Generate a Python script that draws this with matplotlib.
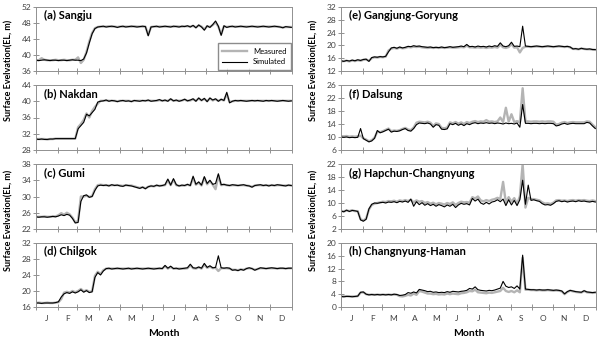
import numpy as np
import matplotlib
matplotlib.use('Agg')
import matplotlib.pyplot as plt
from matplotlib.lines import Line2D

plt.rcParams['font.family'] = ['Lato', 'DejaVu Sans']

# daily record sampled every 4 days (day-of-year 0..364)
days = np.arange(0, 365, 4)

month_edges = [0, 31, 59, 90, 120, 151, 181, 212, 243, 273, 304, 334, 365]
month_labels = ['J', 'F', 'M', 'A', 'M', 'J', 'J', 'A', 'S', 'O', 'N', 'D']

titles = ['(a) Sangju', '(b) Nakdan', '(c) Gumi', '(d) Chilgok',
          '(e) Gangjung-Goryung', '(f) Dalsung', '(g) Hapchun-Changnyung',
          '(h) Changnyung-Haman']
ylims = [(36, 52), (28, 44), (22, 38), (16, 32),
         (12, 32), (6, 26), (2, 22), (0, 20)]

sangju_sim = [38.7, 38.6, 38.7, 38.8, 38.7, 38.6, 38.7, 38.7,
              38.6, 38.7, 38.7, 38.6, 38.7, 38.8, 38.7, 38.7,
              38.6, 39.0, 40.5, 43.0, 45.3, 46.6, 47.0, 47.1,
              47.2, 47.0, 47.1, 47.2, 47.1, 46.9, 47.1, 47.2,
              47.0, 47.1, 47.2, 47.1, 47.0, 47.1, 47.2, 47.1,
              44.8, 47.0, 47.1, 47.2, 47.0, 47.1, 47.2, 47.1,
              47.0, 47.2, 47.1, 47.0, 47.2, 47.1, 47.3, 47.0,
              47.4, 46.8, 47.5, 47.0, 46.2, 47.3, 46.9, 47.6,
              48.5, 47.2, 44.9, 47.3, 46.9, 47.1, 47.2, 47.0,
              47.1, 47.2, 47.1, 47.0, 47.1, 47.2, 47.1, 47.0,
              47.1, 47.2, 47.1, 47.0, 47.1, 47.2, 47.1, 47.0,
              46.8, 47.1, 47.0, 46.9]
sangju_obs = [38.7, 38.7, 39.2, 38.8, 38.7, 38.7, 38.7, 38.8,
              38.7, 38.7, 38.8, 38.7, 38.7, 38.8, 38.8, 39.4,
              38.0, 38.8, 40.8, 43.4, 45.5, 46.7, 47.0, 47.1,
              47.1, 47.1, 47.2, 47.1, 47.1, 47.0, 47.1, 47.1,
              47.1, 47.1, 47.1, 47.2, 47.1, 47.1, 47.1, 47.1,
              45.0, 47.0, 47.1, 47.1, 47.1, 47.1, 47.1, 47.1,
              47.1, 47.1, 47.2, 47.1, 47.1, 47.2, 47.2, 47.1,
              47.3, 46.9, 47.4, 47.1, 46.4, 47.2, 47.0, 47.5,
              48.2, 47.1, 45.2, 47.2, 47.0, 47.1, 47.1, 47.1,
              47.1, 47.1, 47.1, 47.1, 47.1, 47.1, 47.1, 47.1,
              47.1, 47.1, 47.1, 47.1, 47.1, 47.1, 47.1, 47.0,
              46.9, 47.0, 47.0, 47.0]

nakdan_sim = [30.7, 30.6, 30.7, 30.6, 30.6, 30.7, 30.7, 30.8,
              30.8, 30.8, 30.8, 30.8, 30.8, 30.8, 30.8, 33.2,
              34.0, 34.8, 36.8, 36.4, 37.2, 38.0, 39.8, 40.0,
              40.1, 40.3, 40.0, 40.2, 40.1, 39.9, 40.1, 40.2,
              40.0, 40.1, 39.9, 40.2, 40.1, 40.0, 40.2, 40.1,
              40.3, 40.0, 40.1, 40.2, 40.4, 40.1, 40.3, 40.0,
              40.6, 40.1, 40.3, 40.0, 40.2, 40.5, 40.1, 40.3,
              40.6, 40.0, 40.8, 40.2, 40.7, 39.9, 40.8, 40.3,
              40.6, 40.0, 40.5, 40.2, 42.2, 39.6, 40.0, 40.2,
              40.1, 40.2, 40.1, 40.0, 40.1, 40.2, 40.1, 40.2,
              40.1, 40.0, 40.2, 40.1, 40.2, 40.1, 40.0, 40.1,
              40.2, 40.1, 40.0, 40.1]
nakdan_obs = [30.7, 30.7, 30.7, 30.7, 30.6, 30.7, 30.7, 30.8,
              30.8, 30.8, 30.8, 30.8, 30.8, 30.8, 30.8, 33.6,
              34.4, 35.4, 37.0, 36.0, 37.6, 38.6, 39.4, 40.1,
              40.1, 40.2, 40.1, 40.1, 40.1, 40.0, 40.1, 40.1,
              40.1, 40.1, 40.0, 40.1, 40.1, 40.1, 40.1, 40.1,
              40.2, 40.1, 40.1, 40.1, 40.3, 40.1, 40.2, 40.1,
              40.5, 40.1, 40.2, 40.1, 40.2, 40.4, 40.1, 40.2,
              40.5, 40.1, 40.7, 40.2, 40.6, 40.0, 40.7, 40.2,
              40.5, 40.1, 40.4, 40.2, 41.8, 39.8, 40.0, 40.1,
              40.1, 40.1, 40.1, 40.1, 40.1, 40.1, 40.1, 40.1,
              40.1, 40.1, 40.1, 40.1, 40.1, 40.1, 40.1, 40.1,
              40.1, 40.1, 40.1, 40.1]

gumi_sim = [25.0, 24.9, 25.0, 25.0, 24.9, 25.0, 25.1, 25.0,
            25.2, 25.5, 25.3, 25.6, 25.4, 24.6, 23.5, 23.6,
            28.8, 30.2, 30.4, 29.8, 30.0, 31.5, 32.6, 32.8,
            32.7, 32.8, 32.6, 32.9, 32.7, 32.8, 32.6, 32.5,
            32.8, 32.7, 32.6, 32.4, 32.2, 32.0, 32.3, 31.9,
            32.4, 32.6, 32.5, 32.8, 32.6, 32.7, 32.9, 34.3,
            32.8, 34.4, 32.9, 32.6, 32.8, 32.7, 33.0, 32.7,
            35.0, 33.0, 33.6, 32.8, 34.9, 33.2, 34.0, 33.0,
            33.2, 35.6, 32.9, 33.0, 32.8, 32.7, 32.9, 32.8,
            32.7, 32.8, 32.9, 32.7, 32.6, 32.3, 32.7, 32.8,
            32.9, 32.7, 32.8, 32.6, 32.8, 32.7, 32.9, 32.8,
            32.7, 32.6, 32.8, 32.7]
gumi_obs = [25.0, 25.0, 25.0, 25.1, 25.0, 25.0, 25.1, 25.1,
            25.4, 25.9, 25.5, 26.0, 25.6, 24.8, 23.6, 24.0,
            30.0, 30.0, 30.2, 29.9, 30.1, 31.8, 32.8, 32.9,
            32.8, 32.8, 32.7, 32.8, 32.8, 32.8, 32.7, 32.6,
            32.8, 32.7, 32.7, 32.5, 32.3, 32.1, 32.3, 32.0,
            32.4, 32.6, 32.5, 32.7, 32.6, 32.7, 32.8, 34.0,
            32.8, 34.1, 32.8, 32.6, 32.7, 32.7, 32.9, 32.7,
            34.6, 32.9, 33.4, 32.7, 34.6, 33.0, 33.8, 32.9,
            31.8, 35.2, 32.8, 32.9, 32.8, 32.7, 32.8, 32.8,
            32.7, 32.8, 32.8, 32.7, 32.6, 32.4, 32.7, 32.8,
            32.8, 32.7, 32.8, 32.7, 32.8, 32.7, 32.8, 32.8,
            32.7, 32.7, 32.8, 32.7]

chilgok_sim = [17.0, 17.0, 16.9, 17.0, 17.0, 17.0, 17.0, 17.1,
               17.3, 18.5, 19.3, 19.6, 19.4, 19.8, 19.5, 19.8,
               20.3, 19.7, 20.1, 19.6, 19.8, 23.4, 24.6, 24.0,
               25.0, 25.6, 25.7, 25.5, 25.6, 25.7, 25.6, 25.5,
               25.6, 25.7, 25.5, 25.6, 25.7, 25.6, 25.5, 25.6,
               25.7, 25.6, 25.5, 25.6, 25.7, 25.6, 26.4, 25.7,
               26.2, 25.6, 25.7, 25.5, 25.6, 25.7, 25.8, 26.7,
               25.8, 25.7, 26.0, 25.7, 26.9, 25.9, 26.3, 25.8,
               25.9, 28.8, 25.8, 25.7, 25.8, 25.7, 25.2, 25.3,
               25.1, 25.4, 25.2, 25.6, 25.8, 25.6, 25.2, 25.5,
               25.8, 25.7, 25.6, 25.7, 25.8, 25.7, 25.6, 25.7,
               25.7, 25.6, 25.7, 25.7]
chilgok_obs = [17.0, 17.1, 17.0, 17.0, 17.1, 17.0, 17.0, 17.1,
               17.2, 18.0, 19.6, 19.8, 19.6, 20.0, 19.7, 20.0,
               20.5, 19.9, 20.2, 19.8, 19.9, 23.8, 24.8, 24.3,
               25.2, 25.6, 25.6, 25.6, 25.6, 25.6, 25.6, 25.6,
               25.6, 25.6, 25.6, 25.6, 25.6, 25.6, 25.6, 25.6,
               25.6, 25.6, 25.6, 25.6, 25.6, 25.6, 26.2, 25.6,
               26.0, 25.6, 25.6, 25.6, 25.6, 25.6, 25.7, 26.4,
               25.7, 25.6, 25.9, 25.6, 26.6, 25.8, 26.1, 25.7,
               25.8, 25.0, 25.7, 25.7, 25.7, 25.6, 25.3, 25.3,
               25.2, 25.4, 25.3, 25.6, 25.7, 25.6, 25.3, 25.5,
               25.7, 25.7, 25.6, 25.7, 25.7, 25.7, 25.6, 25.7,
               25.7, 25.6, 25.7, 25.7]

gangjung_sim = [15.2, 15.0, 15.3, 15.1, 15.4, 15.2, 15.5, 15.3,
                15.6, 15.7, 15.0, 16.2, 16.4, 16.3, 16.5, 16.4,
                16.6, 18.0, 19.2, 19.4, 19.1, 19.5, 19.2, 19.4,
                19.7, 19.6, 19.9, 19.7, 19.8, 19.6, 19.5, 19.4,
                19.5, 19.3, 19.4, 19.3, 19.5, 19.3, 19.4, 19.6,
                19.4, 19.5, 19.6, 19.8, 19.6, 20.3, 19.6, 19.7,
                19.5, 19.8, 19.6, 19.7, 19.5, 19.8, 19.6, 19.9,
                19.7, 20.8, 19.8, 19.6, 19.9, 21.0, 19.7, 19.8,
                19.6, 26.0, 19.8, 19.7, 19.6, 19.7, 19.8, 19.7,
                19.6, 19.7, 19.8, 19.7, 19.6, 19.7, 19.8, 19.7,
                19.6, 19.7, 19.5, 18.9, 19.0, 18.8, 19.1, 18.9,
                18.8, 18.9, 18.7, 18.7]
gangjung_obs = [15.0, 15.1, 15.2, 15.0, 15.3, 15.1, 15.4, 15.2,
                15.5, 15.6, 15.2, 16.0, 16.3, 16.2, 16.4, 16.3,
                16.5, 18.4, 19.0, 19.2, 19.0, 19.3, 19.1, 19.2,
                19.5, 19.4, 19.6, 19.5, 19.6, 19.4, 19.3, 19.2,
                19.3, 19.2, 19.3, 19.2, 19.3, 19.2, 19.3, 19.4,
                19.3, 19.3, 19.4, 19.5, 19.4, 19.9, 19.4, 19.4,
                19.3, 19.4, 19.3, 19.4, 19.2, 19.4, 19.3, 19.5,
                19.3, 20.2, 19.4, 19.2, 19.5, 20.4, 19.3, 19.4,
                17.8, 19.2, 19.6, 19.6, 19.5, 19.6, 19.7, 19.6,
                19.5, 19.6, 19.7, 19.6, 19.5, 19.6, 19.7, 19.6,
                19.5, 19.6, 19.4, 18.9, 18.9, 18.8, 19.0, 18.9,
                18.8, 18.8, 18.7, 18.6]

dalsung_sim = [10.0, 9.9, 10.0, 9.8, 9.9, 9.8, 9.9, 12.6,
               9.5, 9.0, 8.5, 8.8, 9.6, 12.0, 11.3, 11.6,
               12.0, 12.4, 11.5, 11.8, 11.7, 11.9, 12.3, 12.6,
               12.0, 11.8, 12.6, 13.8, 14.3, 14.2, 14.1, 14.3,
               14.0, 13.0, 13.8, 13.6, 12.4, 12.3, 12.5, 14.1,
               13.8, 14.2, 13.6, 14.0, 13.5, 14.1, 13.8, 14.2,
               14.4, 14.1, 14.3, 14.2, 14.4, 14.2, 14.3, 14.1,
               14.3, 14.2, 14.0, 14.3, 14.1, 14.2, 14.0, 14.3,
               13.0, 20.0, 14.2, 14.2, 14.1, 14.2, 14.2, 14.1,
               14.2, 14.1, 14.2, 14.2, 14.1, 13.4, 13.6, 14.0,
               14.2, 13.9, 14.1, 14.2, 14.1, 14.1, 14.1, 14.1,
               14.5, 14.3, 13.4, 12.6]
dalsung_obs = [10.3, 10.2, 10.3, 10.1, 10.2, 10.1, 10.2, 10.4,
               9.6, 9.2, 8.7, 9.0, 9.8, 11.6, 11.5, 11.8,
               12.2, 12.6, 11.8, 12.0, 11.9, 12.1, 12.5, 12.8,
               12.3, 12.1, 12.9, 14.4, 14.7, 14.6, 14.5, 14.7,
               14.4, 13.4, 14.2, 14.0, 12.8, 12.7, 12.9, 14.5,
               14.2, 14.6, 14.1, 14.5, 14.0, 14.6, 14.3, 14.7,
               14.9, 14.6, 14.8, 14.7, 15.2, 14.7, 14.8, 14.6,
               14.8, 16.0, 14.6, 19.0, 14.7, 17.0, 14.6, 14.9,
               14.5, 25.0, 14.8, 14.8, 14.7, 14.8, 14.8, 14.7,
               14.8, 14.7, 14.8, 14.8, 14.7, 13.8, 14.0, 14.4,
               14.6, 14.3, 14.5, 14.6, 14.5, 14.5, 14.5, 14.5,
               14.8, 14.7, 13.8, 13.0]

hapchun_sim = [7.5, 7.3, 7.8, 7.4, 7.7, 7.6, 7.4, 4.8,
               4.4, 5.0, 8.2, 9.6, 10.0, 9.9, 10.1, 10.2,
               10.0, 10.3, 10.2, 10.4, 10.1, 10.5, 10.3, 10.6,
               10.2, 11.2, 9.0, 10.4, 9.5, 10.1, 9.3, 9.8,
               9.2, 9.6, 9.0, 9.5, 9.2, 8.8, 9.4, 9.0,
               9.6, 8.6, 9.4, 9.9, 9.6, 9.8, 9.4, 11.4,
               10.6, 11.2, 10.0, 9.6, 10.2, 9.7, 10.3, 10.5,
               11.0, 10.4, 11.2, 9.2, 11.0, 9.4, 10.8, 9.2,
               11.0, 17.0, 9.6, 15.5, 10.8, 11.0, 10.7, 10.5,
               9.8, 9.4, 9.5, 9.3, 9.8, 10.5, 10.7, 10.4,
               10.6, 10.3, 10.5, 10.6, 10.4, 10.7, 10.5, 10.6,
               10.4, 10.3, 10.5, 10.3]
hapchun_obs = [7.6, 7.4, 7.7, 7.5, 7.8, 7.5, 7.5, 5.0,
               4.6, 5.2, 8.0, 9.4, 9.8, 10.0, 10.2, 10.4,
               10.3, 10.6, 10.5, 10.7, 10.4, 10.8, 10.6, 10.9,
               10.6, 11.0, 10.2, 10.8, 10.4, 10.6, 10.0, 10.3,
               9.8, 10.1, 9.6, 10.0, 9.8, 9.5, 10.0, 9.7,
               10.2, 9.4, 10.0, 10.4, 10.2, 10.3, 10.1, 11.8,
               11.4, 12.0, 10.8, 10.5, 10.9, 10.6, 11.0, 11.2,
               11.6, 11.2, 16.5, 10.0, 11.8, 10.4, 11.5, 9.8,
               12.0, 22.0, 8.6, 11.6, 11.2, 11.2, 11.0, 10.8,
               10.2, 9.8, 9.9, 9.7, 10.1, 10.8, 10.9, 10.7,
               10.8, 10.6, 10.8, 10.9, 10.7, 10.9, 10.8, 10.9,
               10.7, 10.6, 10.8, 10.6]

haman_sim = [3.3, 3.2, 3.3, 3.3, 3.2, 3.3, 3.4, 4.6,
             4.7, 4.0, 3.8, 3.9, 3.8, 3.9, 3.8, 3.9,
             3.8, 3.9, 3.8, 4.0, 3.9, 3.6, 3.7, 3.9,
             4.5, 4.3, 4.7, 4.4, 5.5, 5.3, 5.1, 4.8,
             4.9, 4.6, 4.7, 4.5, 4.6, 4.5, 4.8, 4.6,
             4.9, 4.8, 4.7, 4.9, 5.0, 5.2, 5.8, 5.6,
             6.3, 5.4, 5.2, 5.1, 5.0, 5.2, 5.1, 5.3,
             5.6, 5.9, 8.0, 6.5, 6.1, 6.3, 5.8, 6.6,
             5.6, 16.2, 5.6, 5.5, 5.4, 5.4, 5.3, 5.4,
             5.3, 5.3, 5.4, 5.3, 5.2, 5.3, 5.2, 5.0,
             4.1, 4.8, 5.2, 5.0, 4.8, 4.7, 4.6, 5.1,
             4.7, 4.6, 4.5, 4.6]
haman_obs = [3.3, 3.3, 3.4, 3.3, 3.3, 3.3, 3.4, 4.5,
             4.6, 4.0, 3.8, 3.9, 3.8, 3.9, 3.8, 3.9,
             3.8, 3.9, 3.8, 3.9, 3.8, 3.4, 3.3, 3.5,
             3.8, 3.6, 4.2, 3.8, 5.0, 4.8, 4.5, 4.2,
             4.2, 4.0, 4.1, 3.9, 4.0, 3.9, 4.2, 4.0,
             4.2, 4.1, 4.0, 4.3, 4.4, 4.6, 5.0, 4.9,
             5.4, 4.6, 4.5, 4.4, 4.3, 4.5, 4.4, 4.6,
             4.8, 5.0, 6.0, 5.0, 4.7, 5.0, 4.6, 5.2,
             4.6, 15.4, 5.4, 5.4, 5.3, 5.3, 5.2, 5.3,
             5.2, 5.2, 5.3, 5.2, 5.1, 5.2, 5.1, 4.9,
             4.0, 4.7, 5.1, 4.9, 4.7, 4.6, 4.5, 5.0,
             4.6, 4.5, 4.4, 4.5]

simulated = [sangju_sim, nakdan_sim, gumi_sim, chilgok_sim,
             gangjung_sim, dalsung_sim, hapchun_sim, haman_sim]
measured = [sangju_obs, nakdan_obs, gumi_obs, chilgok_obs,
            gangjung_obs, dalsung_obs, hapchun_obs, haman_obs]

W, H = 600, 342
fig = plt.figure(figsize=(W / 100, H / 100), dpi=100)

# panel boxes in pixels: (left, top, width, height)
col_x = [(36, 256), (341, 255)]
row_y = [(7, 64), (85, 65), (164, 65), (243, 64)]

axes = []
for i in range(8):
    c, r = i // 4, i % 4
    x0, w = col_x[c]
    y0, h = row_y[r]
    ax = fig.add_axes([x0 / W, 1 - (y0 + h) / H, w / W, h / H])
    axes.append(ax)

    ax.plot(days, measured[i], color='#b4b4b4', lw=1.7, solid_joinstyle='round')
    ax.plot(days, simulated[i], color='black', lw=0.8)

    lo, hi = ylims[i]
    ax.set_ylim(lo, hi)
    ax.set_yticks(np.arange(lo, hi + 1, 4))
    ax.set_xlim(0, 365)
    ax.set_xticks(month_edges)
    ax.set_xticklabels([])
    mids = [(a + b) / 2 for a, b in zip(month_edges[:-1], month_edges[1:])]
    ax.set_xticks(mids, minor=True)
    if r == 3:
        ax.set_xticklabels(month_labels, minor=True)
    ax.tick_params(axis='both', which='major', direction='inout', length=4,
                   width=0.6, color='#808080', labelsize=6, labelcolor='#404040', pad=1.5)
    ax.tick_params(axis='x', which='minor', length=0, labelsize=6,
                   labelcolor='#404040', pad=6)
    for s in ax.spines.values():
        s.set_color('#909090')
        s.set_linewidth(0.7)

    ax.text(0.03, 0.86, titles[i], transform=ax.transAxes, fontsize=8,
            fontweight='bold', va='center', ha='left')

leg_handles = [Line2D([], [], color='#b4b4b4', lw=1.7),
               Line2D([], [], color='black', lw=0.8)]
axes[0].legend(leg_handles, ['Measured', 'Simulated'], loc='lower right',
               fontsize=5.5, frameon=True, fancybox=False, edgecolor='#707070',
               borderaxespad=0.15, handlelength=3.2, labelspacing=0.45,
               borderpad=0.6)

for lx in (9, 314):
    for ly in (70, 220):
        fig.text(lx / W, 1 - ly / H, 'Surface Evelvation(EL, m)', rotation=90,
                 fontsize=6.5, fontweight='bold', ha='center', va='center')

for x0, w in col_x:
    fig.text((x0 + w / 2) / W, 1 - 333 / H, 'Month', fontsize=7.5,
             fontweight='bold', ha='center', va='center')

fig.savefig('out.png', dpi=100)
